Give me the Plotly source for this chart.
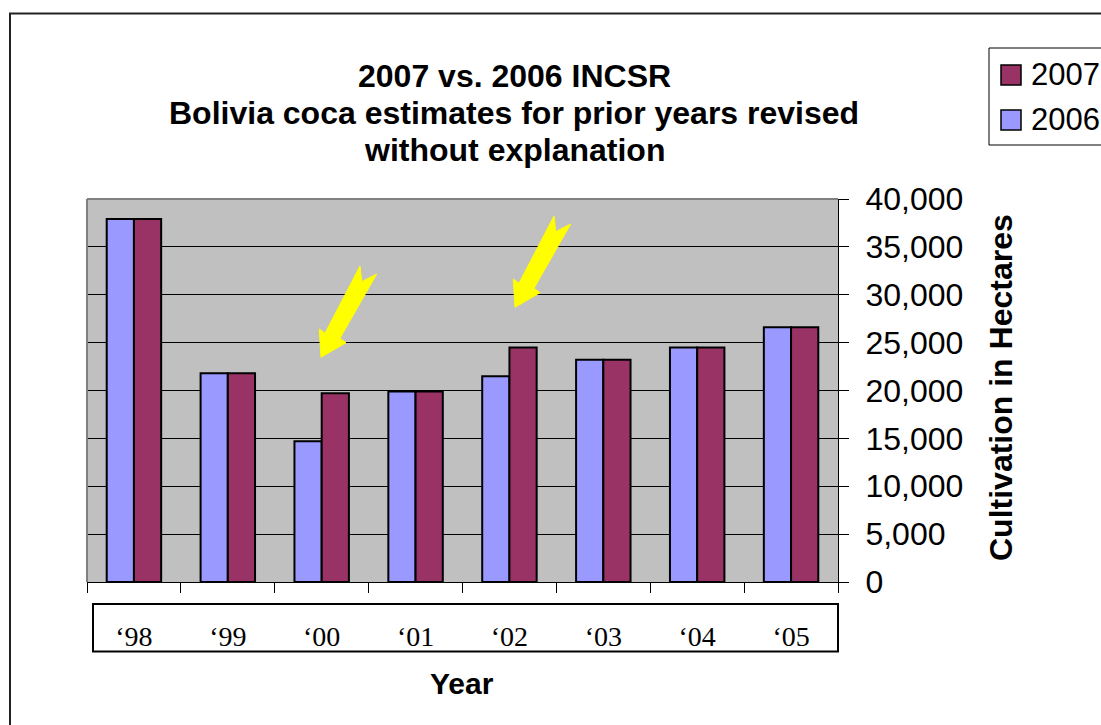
import plotly.graph_objects as go

# ---- data ----
years = ["\u201898", "\u201899", "\u201800", "\u201801", "\u201802", "\u201803", "\u201804", "\u201805"]
series_names = ["2006", "2007"]
values_2006 = [37900, 21800, 14700, 19900, 21500, 23200, 24500, 26600]
values_2007 = [37900, 21800, 19700, 19900, 24500, 23200, 24500, 26600]
series_colors = ["#9999FF", "#993366"]
title_lines = ["2007 vs. 2006 INCSR",
               "Bolivia coca estimates for prior years revised",
               "without explanation"]

W, H = 1101, 725
L, R, T, B = 87, 263, 199, 143
PW, PH = W - L - R, H - T - B


def px(x):
    return (x - L) / PW


def py(y):
    return (H - B - y) / PH


fig = go.Figure()
for name, vals, col in zip(series_names, [values_2006, values_2007], series_colors):
    fig.add_trace(go.Bar(
        x=years, y=vals, name=name,
        marker=dict(color=col, line=dict(color="black", width=2)),
        showlegend=False,
    ))

shapes = []
# plot area top/left border (grey)
shapes.append(dict(type="line", xref="paper", yref="paper", x0=0, x1=1, y0=1, y1=1,
                   line=dict(color="#808080", width=2), layer="above"))
shapes.append(dict(type="line", xref="paper", yref="paper", x0=0, x1=0, y0=0, y1=1,
                   line=dict(color="#808080", width=2), layer="above"))
# outer chart border
shapes.append(dict(type="rect", xref="paper", yref="paper",
                   x0=px(10), x1=px(1115), y0=py(13.5), y1=py(740),
                   line=dict(color="#222222", width=2), fillcolor="rgba(0,0,0,0)", layer="below"))
# box around category labels
shapes.append(dict(type="rect", xref="paper", yref="paper",
                   x0=px(93), x1=px(838), y0=py(604), y1=py(651.5),
                   line=dict(color="black", width=2), fillcolor="rgba(0,0,0,0)"))

# yellow arrows (annotation shapes)
arrow_tpl = [(360, 266), (361.7, 281.7), (376.7, 274), (340, 338.3), (346, 342.7),
             (321, 357.3), (319.3, 329), (325, 333.3)]
for dx, dy in [(0, 0), (194, -50)]:
    pts = [(px(x + dx), py(y + dy)) for x, y in arrow_tpl]
    path = "M " + " L ".join(f"{a:.5f},{b:.5f}" for a, b in pts) + " Z"
    shapes.append(dict(type="path", xref="paper", yref="paper", path=path,
                       fillcolor="#FFFF00", line=dict(color="#FFFF00", width=1), layer="above"))

# custom legend
shapes.append(dict(type="rect", xref="paper", yref="paper",
                   x0=px(989), x1=px(1120), y0=py(48), y1=py(145),
                   line=dict(color="black", width=1), fillcolor="white"))
annotations = []
legend_rows = [(1, 75), (0, 120)]
for idx, cy in legend_rows:
    shapes.append(dict(type="rect", xref="paper", yref="paper",
                       x0=px(1001), x1=px(1021), y0=py(cy - 10), y1=py(cy + 10),
                       line=dict(color="black", width=1.5), fillcolor=series_colors[idx]))
    annotations.append(dict(text=series_names[idx], xref="paper", yref="paper",
                            x=px(1029), y=py(cy), xanchor="left", yanchor="middle",
                            showarrow=False, font=dict(family="Arial", size=31, color="black")))

# title (three lines)
for line, cy in zip(title_lines, [76, 113, 150]):
    annotations.append(dict(
        text=f"<b>{line}</b>", xref="paper", yref="paper", x=px(514), y=py(cy),
        xanchor="center", yanchor="middle", showarrow=False,
        font=dict(family="Arial", size=32, color="black")))
# axis titles
annotations.append(dict(text="<b>Year</b>", xref="paper", yref="paper", x=px(462), y=py(683),
                        xanchor="center", yanchor="middle", showarrow=False,
                        font=dict(family="Arial", size=30, color="black")))
annotations.append(dict(text="<b>Cultivation in Hectares</b>", xref="paper", yref="paper",
                        x=px(1001), y=py(388), xanchor="center", yanchor="middle", textangle=-90,
                        showarrow=False, font=dict(family="Arial", size=32, color="black")))

fig.update_layout(
    width=W, height=H,
    margin=dict(l=L, r=R, t=T, b=B, pad=0),
    paper_bgcolor="white", plot_bgcolor="#C0C0C0",
    barmode="group", bargap=0.42, bargroupgap=0,
    shapes=shapes, annotations=annotations,
    showlegend=False,
)
fig.update_xaxes(
    type="category", tickson="boundaries", ticks="outside", ticklen=10, tickcolor="black",
    tickwidth=1, showline=True, linecolor="black", linewidth=1, showgrid=False,
    tickfont=dict(family="Liberation Serif", size=28, color="black"),
    ticklabelstandoff=29,
)
fig.update_yaxes(
    side="right", range=[0, 40000], dtick=5000, tickformat=",",
    ticks="outside", ticklen=10, tickcolor="black", tickwidth=1,
    showline=True, linecolor="black", linewidth=1,
    showgrid=True, gridcolor="black", gridwidth=1, zeroline=False,
    tickfont=dict(family="Arial", size=32, color="black"),
    ticklabelstandoff=10,
)

fig.write_html("out.html")
